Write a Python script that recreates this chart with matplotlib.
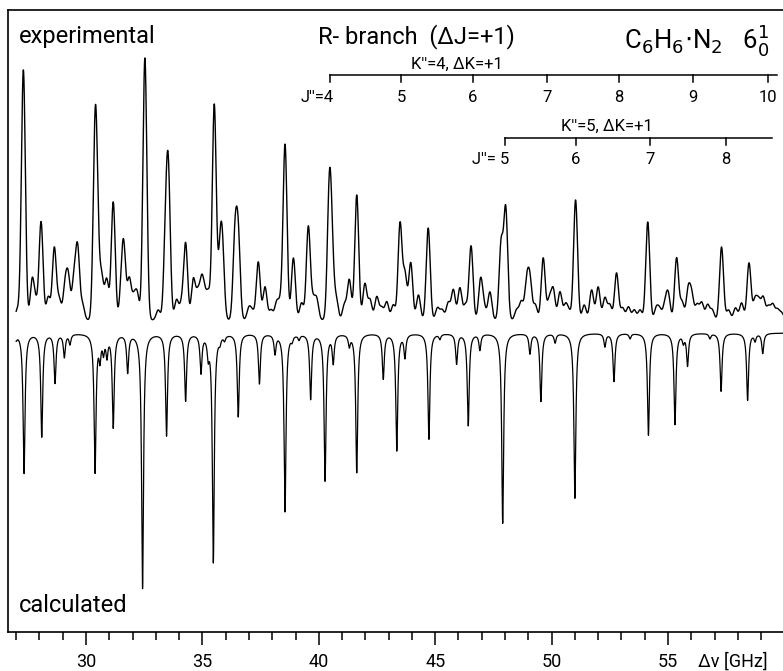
import numpy as np
import matplotlib
matplotlib.use("Agg")
import matplotlib.pyplot as plt
from matplotlib.ticker import MultipleLocator, FixedLocator

W, H = 783, 671
FONT = ['Roboto', 'DejaVu Sans']

# ---------------- data ----------------
# experimental spectrum: line positions (GHz) and heights (arb. units)
exp_pos = [27.05, 27.31, 27.69, 27.85, 28.07, 28.38, 28.64, 28.85, 29.10, 29.24,
           29.48, 29.64, 29.85, 30.39, 30.48, 30.67, 30.89, 31.17, 31.53, 31.63,
           31.86, 32.05, 32.20, 32.53, 33.10, 33.42, 33.54, 33.89, 34.10, 34.28,
           34.61, 34.80, 34.97, 35.10, 35.26, 35.51, 35.76, 35.86, 36.40, 36.54,
           37.00, 37.15, 37.40, 37.69, 37.95, 38.19, 38.35, 38.55, 38.91, 39.26,
           39.55, 39.75, 39.91, 40.45, 40.56, 40.75, 41.10, 41.31, 41.63, 41.98,
           42.20, 42.49, 42.70, 42.92, 43.20, 43.49, 43.70, 43.95, 44.28, 44.70,
           45.10, 45.30, 45.56, 45.78, 46.06, 46.30, 46.54, 46.95, 47.10, 47.35,
           47.83, 48.03, 48.50, 48.70, 48.93, 49.07, 49.30, 49.64, 49.90, 50.07,
           50.36, 50.60, 50.75, 51.03, 51.40, 51.72, 52.00, 52.29, 52.50, 52.79,
           53.05, 53.30, 53.55, 53.80, 54.13, 54.50, 54.65, 54.87, 55.01, 55.37,
           55.60, 55.87, 56.02, 56.25, 56.45, 56.70, 56.90, 57.30, 57.60, 57.90,
           58.16, 58.48, 58.74, 58.90, 59.09, 59.31, 59.50, 59.70, 59.88]
exp_amp = [10, 250, 40, 15, 98, 23, 72, 20, 32, 40,
           38, 70, 15, 170, 70, 42, 40, 118, 32, 62,
           40, 20, 25, 262, 10, 75, 135, 20, 15, 76,
           40, 25, 36, 20, 25, 215, 55, 62, 80, 80,
           12, 8, 58, 33, 10, 17, 15, 175, 62, 17,
           93, 18, 20, 120, 62, 20, 15, 40, 125, 36,
           20, 23, 12, 18, 15, 96, 45, 57, 25, 92,
           12, 10, 17, 30, 32, 15, 74, 40, 12, 28,
           75, 110, 10, 18, 36, 38, 15, 62, 20, 30,
           28, 15, 8, 120, 15, 30, 33, 22, 15, 47,
           12, 13, 10, 10, 98, 12, 10, 15, 25, 62,
           18, 30, 24, 15, 17, 15, 10, 73, 10, 12,
           17, 57, 20, 18, 22, 13, 15, 10, 7]

# calculated spectrum: line positions (GHz) and intensities (arb. units)
calc_pos = [27.00, 27.34, 28.10, 28.67, 29.07, 29.31, 30.39, 30.60, 30.75, 30.90,
            31.17, 31.79, 32.43, 33.46, 34.28, 34.94, 35.25, 35.47, 35.75, 35.95,
            36.54, 37.45, 38.12, 38.55, 38.85, 39.15, 39.65, 40.27, 40.62, 41.31,
            41.63, 42.77, 43.35, 43.70, 44.73, 45.20, 45.92, 46.42, 46.92, 47.90,
            49.07, 49.54, 50.15, 51.00, 52.29, 52.68, 53.37, 54.16, 55.30, 55.66,
            55.84, 56.80, 57.28, 58.42, 58.74, 59.07]
calc_amp = [5, 140, 103, 49, 23, 10, 138, 22, 16, 20,
            93, 38, 255, 102, 67, 38, 18, 228, 6, 5,
            83, 50, 19, 178, 5, 5, 65, 147, 28, 11,
            139, 45, 117, 23, 106, 5, 30, 92, 16, 190,
            20, 68, 9, 165, 13, 48, 5, 102, 91, 8,
            32, 5, 58, 67, 7, 20]

# assignment ladders (J'' labels and their positions in GHz)
k4_J = [4, 5, 6, 7, 8, 9, 10]
k4_pos = [40.48, 43.53, 46.61, 49.79, 52.88, 56.06, 59.31]
k5_J = [5, 6, 7, 8]
k5_pos = [48.00, 51.05, 54.23, 57.48]

major_ticks = [30, 35, 40, 45, 50, 55]

# ---------------- figure ----------------
fig = plt.figure(figsize=(W / 100, H / 100), dpi=100)
ax = fig.add_axes([8 / W, (H - 632) / H, (W - 8) / W, (632 - 10) / H])
ax.set_xlim(26.65, 59.94)
ax.set_ylim(0, 622)

EXP_BASE = 312
CALC_BASE = 299

x = np.linspace(27.0, 59.94, 8000)
exp_y = np.full_like(x, EXP_BASE, dtype=float)
for p, a in zip(exp_pos, exp_amp):
    exp_y += a * np.exp(-0.5 * ((x - p) / 0.085) ** 2)
calc_y = np.full_like(x, CALC_BASE, dtype=float)
g = 0.05
for p, a in zip(calc_pos, calc_amp):
    calc_y -= a * g ** 2 / ((x - p) ** 2 + g ** 2)

ax.plot(x, exp_y, color='black', lw=1.0)
ax.plot(x, calc_y, color='black', lw=0.9)

# spines / ticks
ax.spines['right'].set_visible(False)
for s in ('left', 'top', 'bottom'):
    ax.spines[s].set_linewidth(1.2)
ax.set_yticks([])
ax.xaxis.set_major_locator(FixedLocator(major_ticks))
ax.xaxis.set_minor_locator(MultipleLocator(1))
ax.tick_params(axis='x', which='major', direction='out', length=9, width=1.1,
               labelsize=13, pad=6)
ax.tick_params(axis='x', which='minor', direction='out', length=5.5, width=1.1)
for lab in ax.get_xticklabels():
    lab.set_family(FONT)

# ladders
LFS = 12
def ladder(pos, J, y_line, y_lab, x_end, first_prefix):
    ax.plot([pos[0], x_end], [y_line, y_line], color='black', lw=1.1)
    for i, (p, j) in enumerate(zip(pos, J)):
        ax.plot([p, p], [y_line, y_line - 7], color='black', lw=1.1)
        if i == 0:
            ax.text(p + 0.17, y_lab, first_prefix + str(j), ha='right', va='center',
                    fontsize=LFS, family=FONT)
        else:
            ax.text(p, y_lab, str(j), ha='center', va='center', fontsize=LFS, family=FONT)

ladder(k4_pos, k4_J, 557, 535, 59.68, "J''=")
ladder(k5_pos, k5_J, 494, 472, 59.45, "J''= ")
ax.text(45.94, 568, "K''=4, ΔK=+1", ha='center', va='center', fontsize=LFS, family=FONT)
ax.text(52.38, 506, "K''=5, ΔK=+1", ha='center', va='center', fontsize=LFS, family=FONT)

# labels (figure pixel positions)
def ftext(px, py, s, **kw):
    fig.text(px / W, 1 - py / H, s, family=FONT, **kw)

ftext(19, 37, "experimental", fontsize=17, ha='left', va='center')
ftext(19, 606, "calculated", fontsize=17, ha='left', va='center')
ftext(416, 37, "R- branch  (ΔJ=+1)", fontsize=17, ha='center', va='center')
ftext(697, 40, r"C$_6$H$_6$$\cdot$N$_2$   6$_0^1$", fontsize=18.5, ha='center', va='center')
ftext(733, 662, "Δν [GHz]", fontsize=13, ha='center', va='center')

fig.savefig("out.png", dpi=100)
